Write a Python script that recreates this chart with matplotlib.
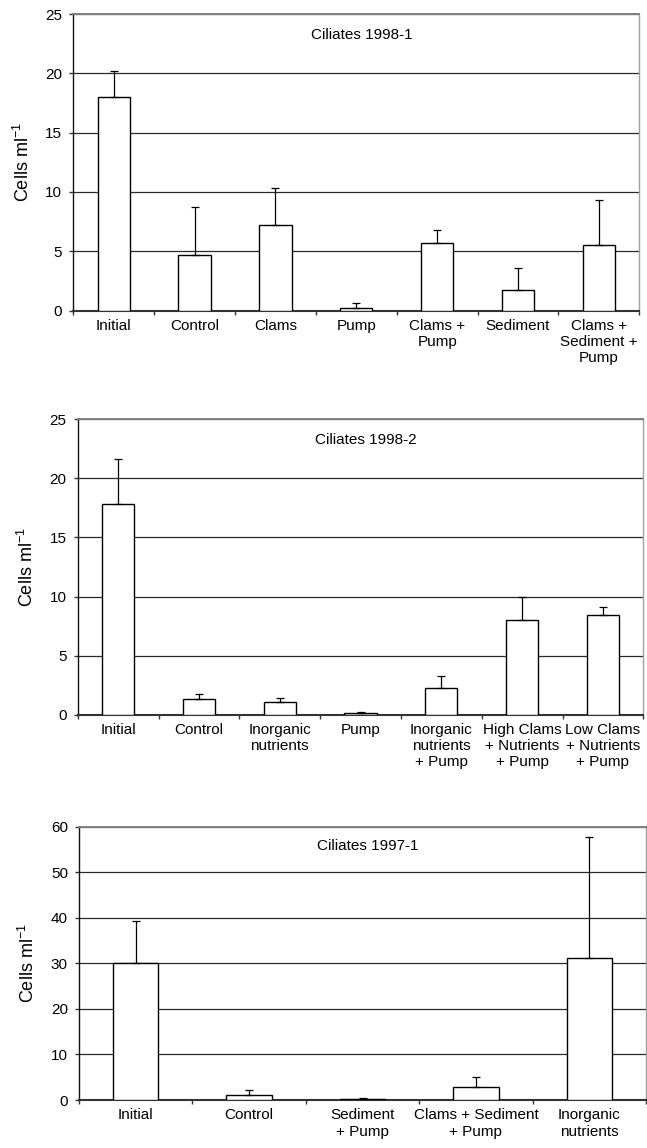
import matplotlib
matplotlib.use("Agg")
import matplotlib.pyplot as plt
import numpy as np

plt.rcParams['font.family'] = ['Liberation Sans', 'DejaVu Sans']
plt.rcParams['mathtext.default'] = 'regular'

# panel 1 - Ciliates 1998-1
cats1 = ['Initial', 'Control', 'Clams', 'Pump', 'Clams +\nPump', 'Sediment',
         'Clams +\nSediment +\nPump']
mean1 = [18.0, 4.7, 7.2, 0.22, 5.7, 1.75, 5.5]
upper1 = [20.2, 8.7, 10.3, 0.67, 6.8, 3.6, 9.3]

# panel 2 - Ciliates 1998-2
cats2 = ['Initial', 'Control', 'Inorganic\nnutrients', 'Pump',
         'Inorganic\nnutrients\n+ Pump', 'High Clams\n+ Nutrients\n+ Pump',
         'Low Clams\n+ Nutrients\n+ Pump']
mean2 = [17.85, 1.3, 1.1, 0.11, 2.3, 8.0, 8.45]
upper2 = [21.6, 1.75, 1.4, 0.22, 3.25, 9.95, 9.1]

# panel 3 - Ciliates 1997-1
cats3 = ['Initial', 'Control', 'Sediment\n+ Pump', 'Clams + Sediment\n+ Pump',
         'Inorganic\nnutrients']
mean3 = [30.0, 1.1, 0.3, 2.8, 31.1]
upper3 = [39.4, 2.2, 0.5, 5.0, 57.8]

panels = [
    ('Ciliates 1998-1', cats1, mean1, upper1, 25, 5, [0.1133, 0.7294, 0.8748, 0.2584]),
    ('Ciliates 1998-2', cats2, mean2, upper2, 25, 5, [0.1201, 0.3774, 0.8742, 0.2574]),
    ('Ciliates 1997-1', cats3, mean3, upper3, 60, 10, [0.1221, 0.0418, 0.8764, 0.2381]),
]

fig = plt.figure(figsize=(6.47, 11.48), dpi=100)

for title, cats, means, uppers, ymax, step, rect in panels:
    ax = fig.add_axes(rect)
    n = len(cats)
    x = np.arange(n)
    means = np.array(means)
    err = np.array(uppers) - means

    ax.set_axisbelow(True)
    ax.yaxis.grid(True, color='#2a2a2a', linewidth=0.9)
    ax.bar(x, means, width=0.4, color='white', edgecolor='black', linewidth=1.0, zorder=3)
    ax.errorbar(x, means, yerr=[np.zeros(n), err], fmt='none', ecolor='black',
                elinewidth=0.9, capsize=3, capthick=0.9, zorder=4)

    ax.set_xlim(-0.5, n - 0.5)
    ax.set_ylim(0, ymax)
    ax.set_yticks(np.arange(0, ymax + 1, step))
    ax.set_xticks(np.arange(n + 1) - 0.5)
    ax.set_xticklabels([])
    ax.set_xticks(x, minor=True)
    ax.set_xticklabels(cats, minor=True, fontsize=11)
    ax.tick_params(axis='x', which='minor', length=0, pad=6)
    ax.tick_params(axis='x', which='major', length=3, width=1.0, direction='out', color='#333333')
    ax.tick_params(axis='y', length=3, width=1.0, direction='out', labelsize=11,
                   pad=5, color='#333333')

    ax.spines['top'].set_color('#808080')
    ax.spines['top'].set_linewidth(1.4)
    ax.spines['right'].set_color('#a0a0a0')
    ax.spines['right'].set_linewidth(1.0)
    ax.spines['left'].set_color('#111111')
    ax.spines['left'].set_linewidth(1.0)
    ax.spines['bottom'].set_color('#333333')
    ax.spines['bottom'].set_linewidth(1.5)

    ax.set_ylabel('Cells ml$^{-1}$', fontsize=13, labelpad=9)
    ax.text(0.509, 0.93, title, transform=ax.transAxes, ha='center', va='center',
            fontsize=11)

fig.savefig('out.png', dpi=100)
